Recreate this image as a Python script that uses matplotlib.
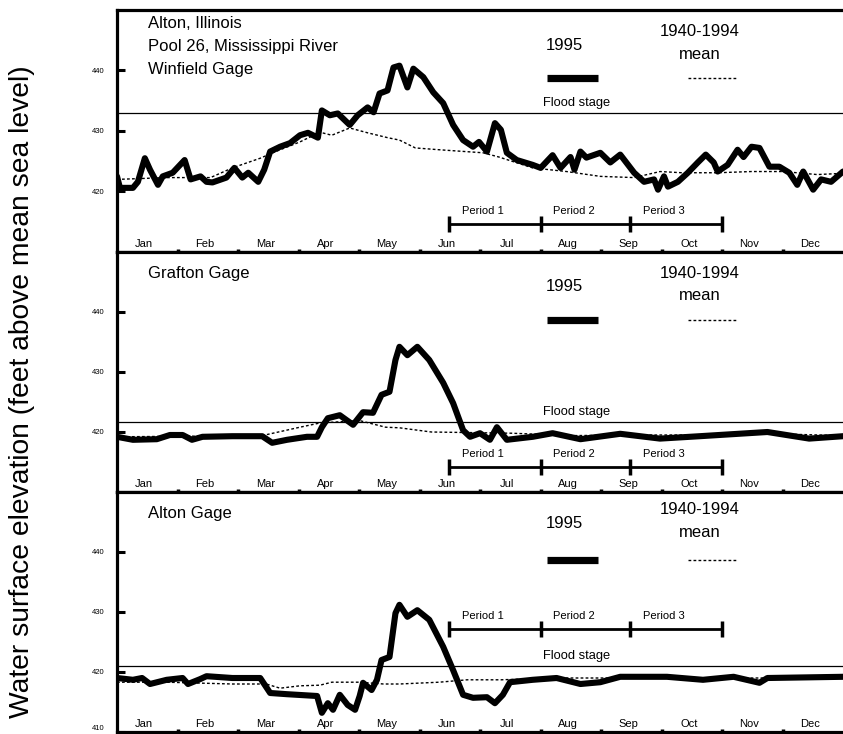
import matplotlib.pyplot as plt
import numpy as np

plt.rcParams['font.family'] = ['Liberation Sans', 'DejaVu Sans']

# --- data (day of year, water elevation ft) ---
winfield_days = [0, 1.5, 8, 10.5, 14, 16.6, 20.6, 23, 28, 34, 37, 42, 45, 48, 55, 59, 63, 66, 71, 74,
                 77, 82, 87, 92, 96, 101, 103, 107, 111, 117, 121, 126, 129, 132, 136, 139, 142, 146,
                 149, 154, 159, 164, 169, 174, 179, 182, 186, 190, 193, 196, 201, 209, 213, 219, 223,
                 228, 230, 233, 236, 243, 248, 253, 260, 265, 270, 272, 275, 277, 282, 287, 292, 296,
                 300, 302, 307, 312, 315, 319, 323, 328, 333, 338, 342, 345, 350, 354, 359, 365]
winfield_1995 = [422.5, 420.6, 420.6, 421.6, 425.5, 423.6, 421.1, 422.5, 423.1, 425.2, 422.0, 422.5,
                 421.6, 421.5, 422.3, 423.9, 422.3, 423.1, 421.6, 423.6, 426.6, 427.4, 428.0, 429.3,
                 429.7, 428.9, 433.4, 432.6, 432.9, 431.0, 432.6, 433.9, 433.1, 436.2, 436.7, 440.5,
                 440.8, 437.2, 440.3, 438.9, 436.4, 434.6, 431.0, 428.5, 427.4, 428.2, 426.6, 431.3,
                 430.2, 426.4, 425.2, 424.4, 423.9, 426.0, 423.9, 425.7, 423.6, 426.6, 425.6, 426.4,
                 424.8, 426.1, 423.1, 421.6, 422.0, 420.3, 422.5, 420.8, 421.6, 423.1, 424.8, 426.1,
                 424.8, 423.3, 424.4, 426.9, 425.7, 427.4, 427.2, 424.1, 424.1, 423.1, 421.1, 423.3,
                 420.3, 422.0, 421.6, 423.3]
winfield_mean_days = [0, 25, 47, 58, 72, 79, 92, 102, 108, 117, 126, 136, 142, 150, 162, 184, 192,
                      209, 226, 243, 260, 273, 284, 302, 319, 335, 352, 365]
winfield_mean = [422.0, 422.3, 422.3, 423.9, 425.5, 426.5, 428.2, 429.8, 429.3, 430.5, 429.7, 428.9,
                 428.5, 427.2, 426.9, 426.4, 425.7, 423.9, 423.3, 422.5, 422.3, 423.3, 423.1, 423.1,
                 423.3, 423.3, 422.8, 423.0]

grafton_days = [0, 8, 20, 26.6, 33, 37.7, 43, 58, 73, 78, 85.5, 95.5, 100.6, 103, 106, 112, 118.7,
                123.7, 128.7, 133, 137, 140, 142, 146, 151, 157, 164, 169, 174, 177.5, 182.5, 187.5,
                191, 196, 209, 219, 233, 253, 273, 293, 327, 348, 365]
grafton_1995 = [419.2, 418.7, 418.8, 419.5, 419.5, 418.7, 419.2, 419.3, 419.3, 418.2, 418.7, 419.2,
                419.2, 420.8, 422.3, 422.8, 421.2, 423.3, 423.2, 426.2, 426.7, 432.0, 434.2, 432.8,
                434.2, 432.0, 428.2, 424.8, 420.3, 419.2, 419.8, 418.7, 420.8, 418.7, 419.2, 419.8,
                418.8, 419.7, 418.9, 419.3, 420.0, 418.9, 419.3]
grafton_mean_days = [0, 73, 92, 102, 122, 135, 142, 158, 198, 230, 260, 300, 330, 365]
grafton_mean = [419.2, 419.4, 420.8, 421.5, 421.9, 420.8, 420.7, 420.0, 419.8, 419.4, 419.5, 419.5,
                419.7, 419.4]

alton_days = [0, 8, 12.6, 16.6, 25, 33, 35.7, 41.7, 45, 58, 72, 77, 85.5, 100.6, 103, 106, 108.6,
              112, 116, 119.7, 122, 123.7, 128, 130.7, 133, 137, 140, 142, 146, 151, 157, 164, 169,
              174, 179, 186, 190, 194, 197.6, 209, 221, 233, 243, 253, 276.5, 294.6, 310, 323, 327, 365]
alton_1995 = [419.0, 418.7, 419.0, 418.0, 418.7, 419.0, 418.0, 418.8, 419.3, 419.0, 419.0, 416.5,
              416.3, 416.0, 413.2, 414.8, 413.7, 416.2, 414.5, 413.7, 416.0, 418.2, 417.0, 418.7,
              422.0, 422.5, 429.8, 431.2, 429.2, 430.3, 428.7, 424.2, 420.3, 416.2, 415.7, 415.8,
              414.8, 416.2, 418.3, 418.7, 419.0, 418.0, 418.3, 419.2, 419.2, 418.7, 419.2, 418.2,
              419.0, 419.2]
alton_mean_days = [0, 25, 58, 75, 82, 92, 102, 108, 122, 134, 142, 162, 176, 193, 220, 260, 300, 330, 365]
alton_mean = [418.3, 418.3, 418.0, 418.0, 417.3, 417.7, 417.8, 418.3, 418.3, 418.0, 418.0, 418.3,
              418.7, 418.7, 419.0, 419.0, 419.0, 419.0, 419.0]

panel_titles = [["Alton, Illinois", "Pool 26, Mississippi River", "Winfield Gage"],
                ["Grafton Gage"], ["Alton Gage"]]
flood_stage = [433.0, 421.7, 421.0]
period_level = [414.6, 414.2, 427.1]
period_edges = [167, 213, 258, 304]
period_names = ["Period 1", "Period 2", "Period 3"]
months = ["Jan", "Feb", "Mar", "Apr", "May", "Jun", "Jul", "Aug", "Sep", "Oct", "Nov", "Dec"]

series = [(winfield_days, winfield_1995, winfield_mean_days, winfield_mean),
          (grafton_days, grafton_1995, grafton_mean_days, grafton_mean),
          (alton_days, alton_1995, alton_mean_days, alton_mean)]

fig = plt.figure(figsize=(8.43, 7.34), dpi=100)
left, width = 117 / 843, 1 - 117 / 843
rects = [(252, 10), (492, 252), (732, 492)]  # bottom, top in pixels

mdays = 365 / 12
for k, (d, v, md, mv) in enumerate(series):
    bot, top = rects[k]
    ax = fig.add_axes([left, 1 - bot / 734, width, (bot - top) / 734])
    ax.set_xlim(0, 365)
    ax.set_ylim(410, 450)

    ax.plot(md, mv, color='black', lw=1.0, ls=(0, (2, 1.6)), zorder=2)
    ax.plot(d, v, color='black', lw=4.4, solid_joinstyle='round', solid_capstyle='round', zorder=3)
    ax.axhline(flood_stage[k], color='black', lw=0.9, zorder=1)
    ax.text(231, flood_stage[k] + 1.6, "Flood stage", ha='center', va='center', fontsize=9.3)

    # periods
    pl = period_level[k]
    ax.plot([period_edges[0], period_edges[-1]], [pl, pl], color='black', lw=2)
    ax.plot(period_edges, [pl] * 4, ls='none', marker='|', ms=11, mew=2.5, color='black')
    for i, name in enumerate(period_names):
        mid = (period_edges[i] + period_edges[i + 1]) / 2 - 6
        ax.text(mid, pl + 2.2, name, ha='center', va='center', fontsize=8)

    # legend-like labels
    dy = 0.6 if k == 2 else 0.0
    ax.text(225, 444.2 + dy, "1995", ha='center', va='center', fontsize=12)
    ax.plot([216, 242], [438.7, 438.7], color='black', lw=5.2, solid_capstyle='butt')
    ax.text(293, 446.4 + dy, "1940-1994", ha='center', va='center', fontsize=12)
    ax.text(293, 442.7 + dy, "mean", ha='center', va='center', fontsize=12)
    ax.plot([287, 312], [438.7, 438.7], color='black', lw=1.0, ls=(0, (2, 1.6)))

    # panel title
    ys = [447.7, 443.9, 440.1] if k == 0 else [446.4]
    for t, yy in zip(panel_titles[k], ys):
        ax.text(15.6, yy, t, ha='left', va='center', fontsize=12)

    # month labels
    for i, m in enumerate(months):
        ax.text((i + 0.45) * mdays, 410.5, m, ha='center', va='bottom', fontsize=8)

    ax.set_xticks([i * mdays for i in range(1, 12)])
    ax.set_xticklabels([])
    ax.tick_params(axis='x', direction='in', length=2.5, width=2.5, bottom=True, top=False)
    yt = [410, 420, 430, 440] if k == 2 else [420, 430, 440]
    ax.set_yticks(yt)
    ax.set_yticklabels([str(t) for t in yt], fontsize=5.5)
    ax.tick_params(axis='y', direction='in', length=6, width=2.2, pad=9)
    if k == 2:
        ax.get_yticklabels()[0].set_va('bottom')

    ax.spines['right'].set_visible(False)
    ax.spines['left'].set_linewidth(2.3)
    ax.spines['top'].set_linewidth(2.3)
    ax.spines['bottom'].set_linewidth(2.3)

fig.text(0.026, 0.467, "Water surface elevation (feet above mean sea level)", rotation=90,
         ha='center', va='center', fontsize=20.3)

fig.savefig("out.png", dpi=100)
